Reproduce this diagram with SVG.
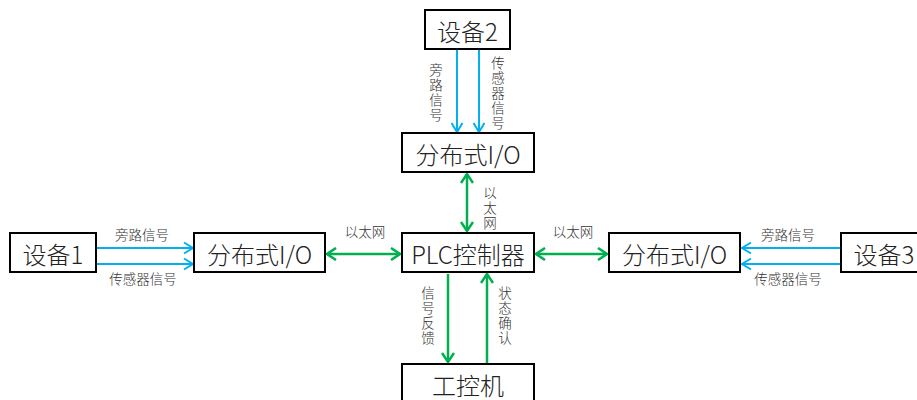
<svg xmlns="http://www.w3.org/2000/svg" width="917" height="400" viewBox="0 0 917 400">
<style>
.box{fill:#fff;stroke:#000;stroke-width:2}
.bt{font-family:"Noto Sans CJK SC","Liberation Sans",sans-serif;font-size:24px;font-weight:300;fill:#222;text-anchor:middle;dominant-baseline:central}
.lt{font-family:"Noto Sans CJK SC","Liberation Sans",sans-serif;font-size:13.5px;font-weight:300;fill:#333;text-anchor:middle;dominant-baseline:central}
.blue{stroke:#00B0F0;stroke-width:2;fill:none}
.green{stroke:#00B050;stroke-width:2.5;fill:none}
</style>
<defs>
<marker id="ab" markerUnits="userSpaceOnUse" markerWidth="14" markerHeight="14" viewBox="-12 -7 14 14" refX="0" refY="0" orient="auto-start-reverse">
<path d="M-9,-5.5 L0,0 L-9,5.5" fill="none" stroke="#00B0F0" stroke-width="2"/>
</marker>
<marker id="ag" markerUnits="userSpaceOnUse" markerWidth="14" markerHeight="14" viewBox="-12 -7 14 14" refX="0" refY="0" orient="auto-start-reverse">
<path d="M-9,-6 L0,0 L-9,6" fill="none" stroke="#00B050" stroke-width="2.5"/>
</marker>
</defs>

<g id="connectors">
<line class="blue" x1="457" y1="50" x2="457" y2="132" marker-end="url(#ab)"/>
<line class="blue" x1="479" y1="50" x2="479" y2="132" marker-end="url(#ab)"/>
<line class="green" x1="467" y1="174" x2="467" y2="231" marker-start="url(#ag)" marker-end="url(#ag)"/>
<line class="blue" x1="97" y1="248" x2="193" y2="248" marker-end="url(#ab)"/>
<line class="blue" x1="97" y1="264" x2="193" y2="264" marker-end="url(#ab)"/>
<line class="green" x1="327" y1="254" x2="400" y2="254" marker-start="url(#ag)" marker-end="url(#ag)"/>
<line class="green" x1="536" y1="254" x2="607" y2="254" marker-start="url(#ag)" marker-end="url(#ag)"/>
<line class="blue" x1="840" y1="248" x2="742" y2="248" marker-end="url(#ab)"/>
<line class="blue" x1="840" y1="264" x2="742" y2="264" marker-end="url(#ab)"/>
<line class="green" x1="448" y1="274" x2="448" y2="362" marker-end="url(#ag)"/>
<line class="green" x1="487" y1="363" x2="487" y2="274" marker-end="url(#ag)"/>

<text class="lt"><tspan x="436" y="69">旁</tspan><tspan x="436" y="84">路</tspan><tspan x="436" y="99">信</tspan><tspan x="436" y="114">号</tspan></text>
<text class="lt"><tspan x="498" y="62">传</tspan><tspan x="498" y="77">感</tspan><tspan x="498" y="92">器</tspan><tspan x="498" y="107">信</tspan><tspan x="498" y="122">号</tspan></text>
<text class="lt"><tspan x="490" y="192">以</tspan><tspan x="490" y="207">太</tspan><tspan x="490" y="222">网</tspan></text>
<text class="lt" x="142" y="234">旁路信号</text>
<text class="lt" x="143" y="278">传感器信号</text>
<text class="lt" x="365" y="231">以太网</text>
<text class="lt" x="573" y="231">以太网</text>
<text class="lt" x="788" y="234">旁路信号</text>
<text class="lt" x="788" y="278">传感器信号</text>
<text class="lt"><tspan x="428" y="292">信</tspan><tspan x="428" y="307">号</tspan><tspan x="428" y="322">反</tspan><tspan x="428" y="337">馈</tspan></text>
<text class="lt"><tspan x="505" y="292">状</tspan><tspan x="505" y="307">态</tspan><tspan x="505" y="322">确</tspan><tspan x="505" y="337">认</tspan></text>
</g>

<g id="dev2"><rect class="box" x="425" y="10" width="85" height="39"/><text class="bt" x="467.5" y="30.5">设备2</text></g>
<g id="io-top"><rect class="box" x="402" y="133" width="132" height="39"/><text class="bt" x="468" y="153.5">分布式I/O</text></g>
<g id="plc"><rect class="box" x="402" y="233" width="132" height="39"/><text class="bt" x="468" y="253.5">PLC控制器</text></g>
<g id="ipc"><rect class="box" x="402" y="364" width="132" height="39"/><text class="bt" x="468" y="384.5">工控机</text></g>
<g id="dev1"><rect class="box" x="10" y="233" width="86" height="39"/><text class="bt" x="53" y="253.5">设备1</text></g>
<g id="io-left"><rect class="box" x="194" y="233" width="131" height="39"/><text class="bt" x="259.5" y="253.5">分布式I/O</text></g>
<g id="io-right"><rect class="box" x="609" y="233" width="131" height="39"/><text class="bt" x="674.5" y="253.5">分布式I/O</text></g>
<g id="dev3"><rect class="box" x="841" y="233" width="88" height="39"/><text class="bt" x="884" y="253.5">设备3</text></g>
</svg>
